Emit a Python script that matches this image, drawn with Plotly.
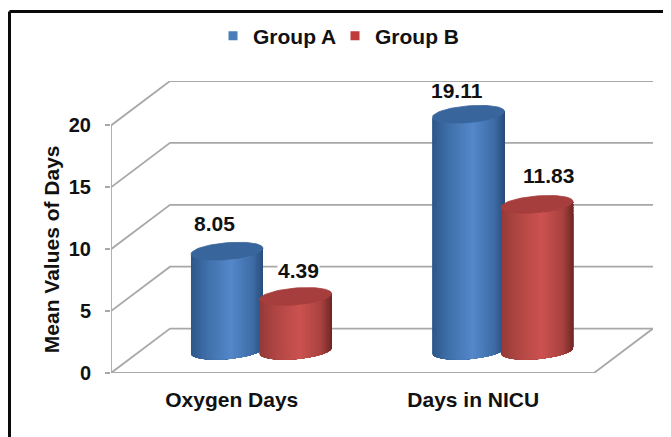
import numpy as np
import plotly.graph_objects as go

categories = ["Oxygen Days", "Days in NICU"]
group_a = [8.05, 19.11]
group_b = [4.39, 11.83]
y_ticks = [0, 5, 10, 15, 20]

FONT = "Liberation Sans, Arial, sans-serif"
# the page adds an 8px body margin, so the figure sits at (8, 8)
W, H = 663, 429
L, R, T, B = 103, 18, 72.5, 64
PX_X = 241.5
PX_Y = 12.4
DX = 59 / PX_X       # depth shift of the chart box
DY = 44.5 / PX_Y
RAD = 34 / PX_X
HALF_D = 0.2
OFFSET = 0.142
GRID = "#a8a8a8"
INK = "#111111"
PLOT_W = W - L - R
PLOT_H = H - T - B

blue = {"stops": [(0, (46, 88, 138)), (0.22, (64, 112, 170)), (0.55, (84, 136, 202)),
                  (0.85, (62, 108, 166)), (1, (40, 78, 122))], "top": "#38659b"}
red = {"stops": [(0, (150, 58, 56)), (0.22, (176, 70, 67)), (0.55, (204, 82, 80)),
                 (0.85, (168, 66, 63)), (1, (112, 40, 38))], "top": "#a53e3c"}


def shade(stops, f):
    xs = [s[0] for s in stops]
    rgb = [np.interp(f, xs, [s[1][i] for s in stops]) for i in range(3)]
    return "rgb(%d,%d,%d)" % tuple(int(round(c)) for c in rgb)


def ring(cx, v, t):
    x = cx + 0.5 * DX + RAD * np.cos(t) + HALF_D * DX * np.sin(t)
    y = v + 0.5 * DY + HALF_D * DY * np.sin(t)
    return x, y


fig = go.Figure()

# chart box: grid lines run along the side wall and the back wall
for v in y_ticks:
    fig.add_trace(go.Scatter(x=[0, DX, 2 + DX], y=[v, v + DY, v + DY], mode="lines",
                             line=dict(color=GRID, width=1.8), showlegend=False,
                             hoverinfo="skip", cliponaxis=False))
fig.add_trace(go.Scatter(x=[0, 2, 2 + DX], y=[0, 0, DY], mode="lines",
                         line=dict(color=GRID, width=1.8), showlegend=False,
                         hoverinfo="skip", cliponaxis=False))
fig.add_trace(go.Scatter(x=[0, 0], y=[0, 20], mode="lines",
                         line=dict(color=GRID, width=1.8), showlegend=False,
                         hoverinfo="skip", cliponaxis=False))

# legend carriers, sitting behind the cylinders
centers = np.arange(len(categories)) + 0.5
for name, vals, off, col in [("Group A", group_a, -OFFSET, "#4a7ebb"),
                             ("Group B", group_b, OFFSET, "#c0393b")]:
    fig.add_trace(go.Scatter(x=centers + off + 0.5 * DX, y=np.array(vals) + 0.5 * DY - 1,
                             mode="markers", name=name, cliponaxis=False,
                             marker=dict(symbol="square", size=9, color=col)))


def cylinder(cx, v, pal):
    n = 70
    tr = np.arctan2(HALF_D * DX * PX_X, RAD * PX_X)
    ts = np.linspace(tr, tr - np.pi, n + 1)[::-1]   # left edge to right edge
    xs_all = ring(cx, 0, ts)[0]
    xmin, xmax = xs_all.min(), xs_all.max()
    for i in range(n):
        seg = ts[i:]
        xb, yb = ring(cx, 0, seg)
        xt, yt = ring(cx, v, seg[::-1])
        f = (xb[0] - xmin) / (xmax - xmin)
        c = shade(pal["stops"], float(f))
        fig.add_trace(go.Scatter(x=np.r_[xb, xt, xb[0]], y=np.r_[yb, yt, yb[0]],
                                 mode="lines", fill="toself", fillcolor=c,
                                 line=dict(width=0), showlegend=False,
                                 hoverinfo="skip", cliponaxis=False))
    tt = np.linspace(0, 2 * np.pi, 73)
    xt, yt = ring(cx, v, tt)
    fig.add_trace(go.Scatter(x=xt, y=yt, mode="lines", fill="toself", fillcolor=pal["top"],
                             line=dict(color=pal["top"], width=0.8), showlegend=False,
                             hoverinfo="skip", cliponaxis=False))


for i, c in enumerate(centers):
    cylinder(c - OFFSET, group_a[i], blue)
    cylinder(c + OFFSET, group_b[i], red)

# value labels: (x, value, x shift, y shift, backing)
labels = [(centers[0] - OFFSET, group_a[0], -12, 28, None),
          (centers[0] + OFFSET, group_b[0], 3, 26, "white"),
          (centers[1] - OFFSET, group_a[1], -11, 24, None),
          (centers[1] + OFFSET, group_b[1], 11, 29, None)]
bold = dict(family=FONT, size=21, color=INK, weight="bold")
annotations = []
for x, v, xs, ys, bg in labels:
    annotations.append(dict(x=x + 0.5 * DX, y=v + 0.5 * DY, text=f"{v:.2f}", showarrow=False,
                            xshift=xs, yshift=ys, bgcolor=bg, borderpad=0, font=bold))
annotations.append(dict(text="Mean Values of Days", textangle=-90, showarrow=False,
                        xref="paper", x=(43 - L) / PLOT_W, xanchor="center",
                        yref="y", y=10, yanchor="middle", font=bold))

top_y = (H - B - 3) / PLOT_H
left_x = (1.5 - L) / PLOT_W
fig.update_layout(
    width=W, height=H, margin=dict(l=L, r=R, t=T, b=B, autoexpand=False),
    paper_bgcolor="white", plot_bgcolor="rgba(0,0,0,0)",
    font=bold,
    xaxis=dict(range=[0, 2 + DX], tickmode="array", tickvals=list(centers), ticktext=categories,
               ticks="", showgrid=False, zeroline=False, showline=False, tickfont=bold,
               ticklabelstandoff=12),
    yaxis=dict(range=[0, 20 + DY], tickmode="array", tickvals=y_ticks, ticks="outside", ticklen=5,
               tickcolor=GRID, tickwidth=1.8, showgrid=False, zeroline=False, showline=False,
               tickfont=dict(family=FONT, size=20, color=INK, weight="bold"),
               ticklabelstandoff=10),
    legend=dict(orientation="h", x=215 / W, xanchor="left", xref="container", y=1 - 28 / H,
                yanchor="middle", yref="container", entrywidth=87, entrywidthmode="pixels",
                indentation=-10, itemsizing="trace", font=bold, bgcolor="rgba(0,0,0,0)"),
    annotations=annotations,
    shapes=[dict(type="line", xref="paper", yref="paper", x0=left_x, x1=(W - L) / PLOT_W,
                 y0=top_y, y1=top_y, line=dict(color="#0a0a0a", width=3)),
            dict(type="line", xref="paper", yref="paper", x0=left_x, x1=left_x,
                 y0=top_y, y1=-B / PLOT_H, line=dict(color="#0a0a0a", width=3))],
)
fig.write_html("out.html")
